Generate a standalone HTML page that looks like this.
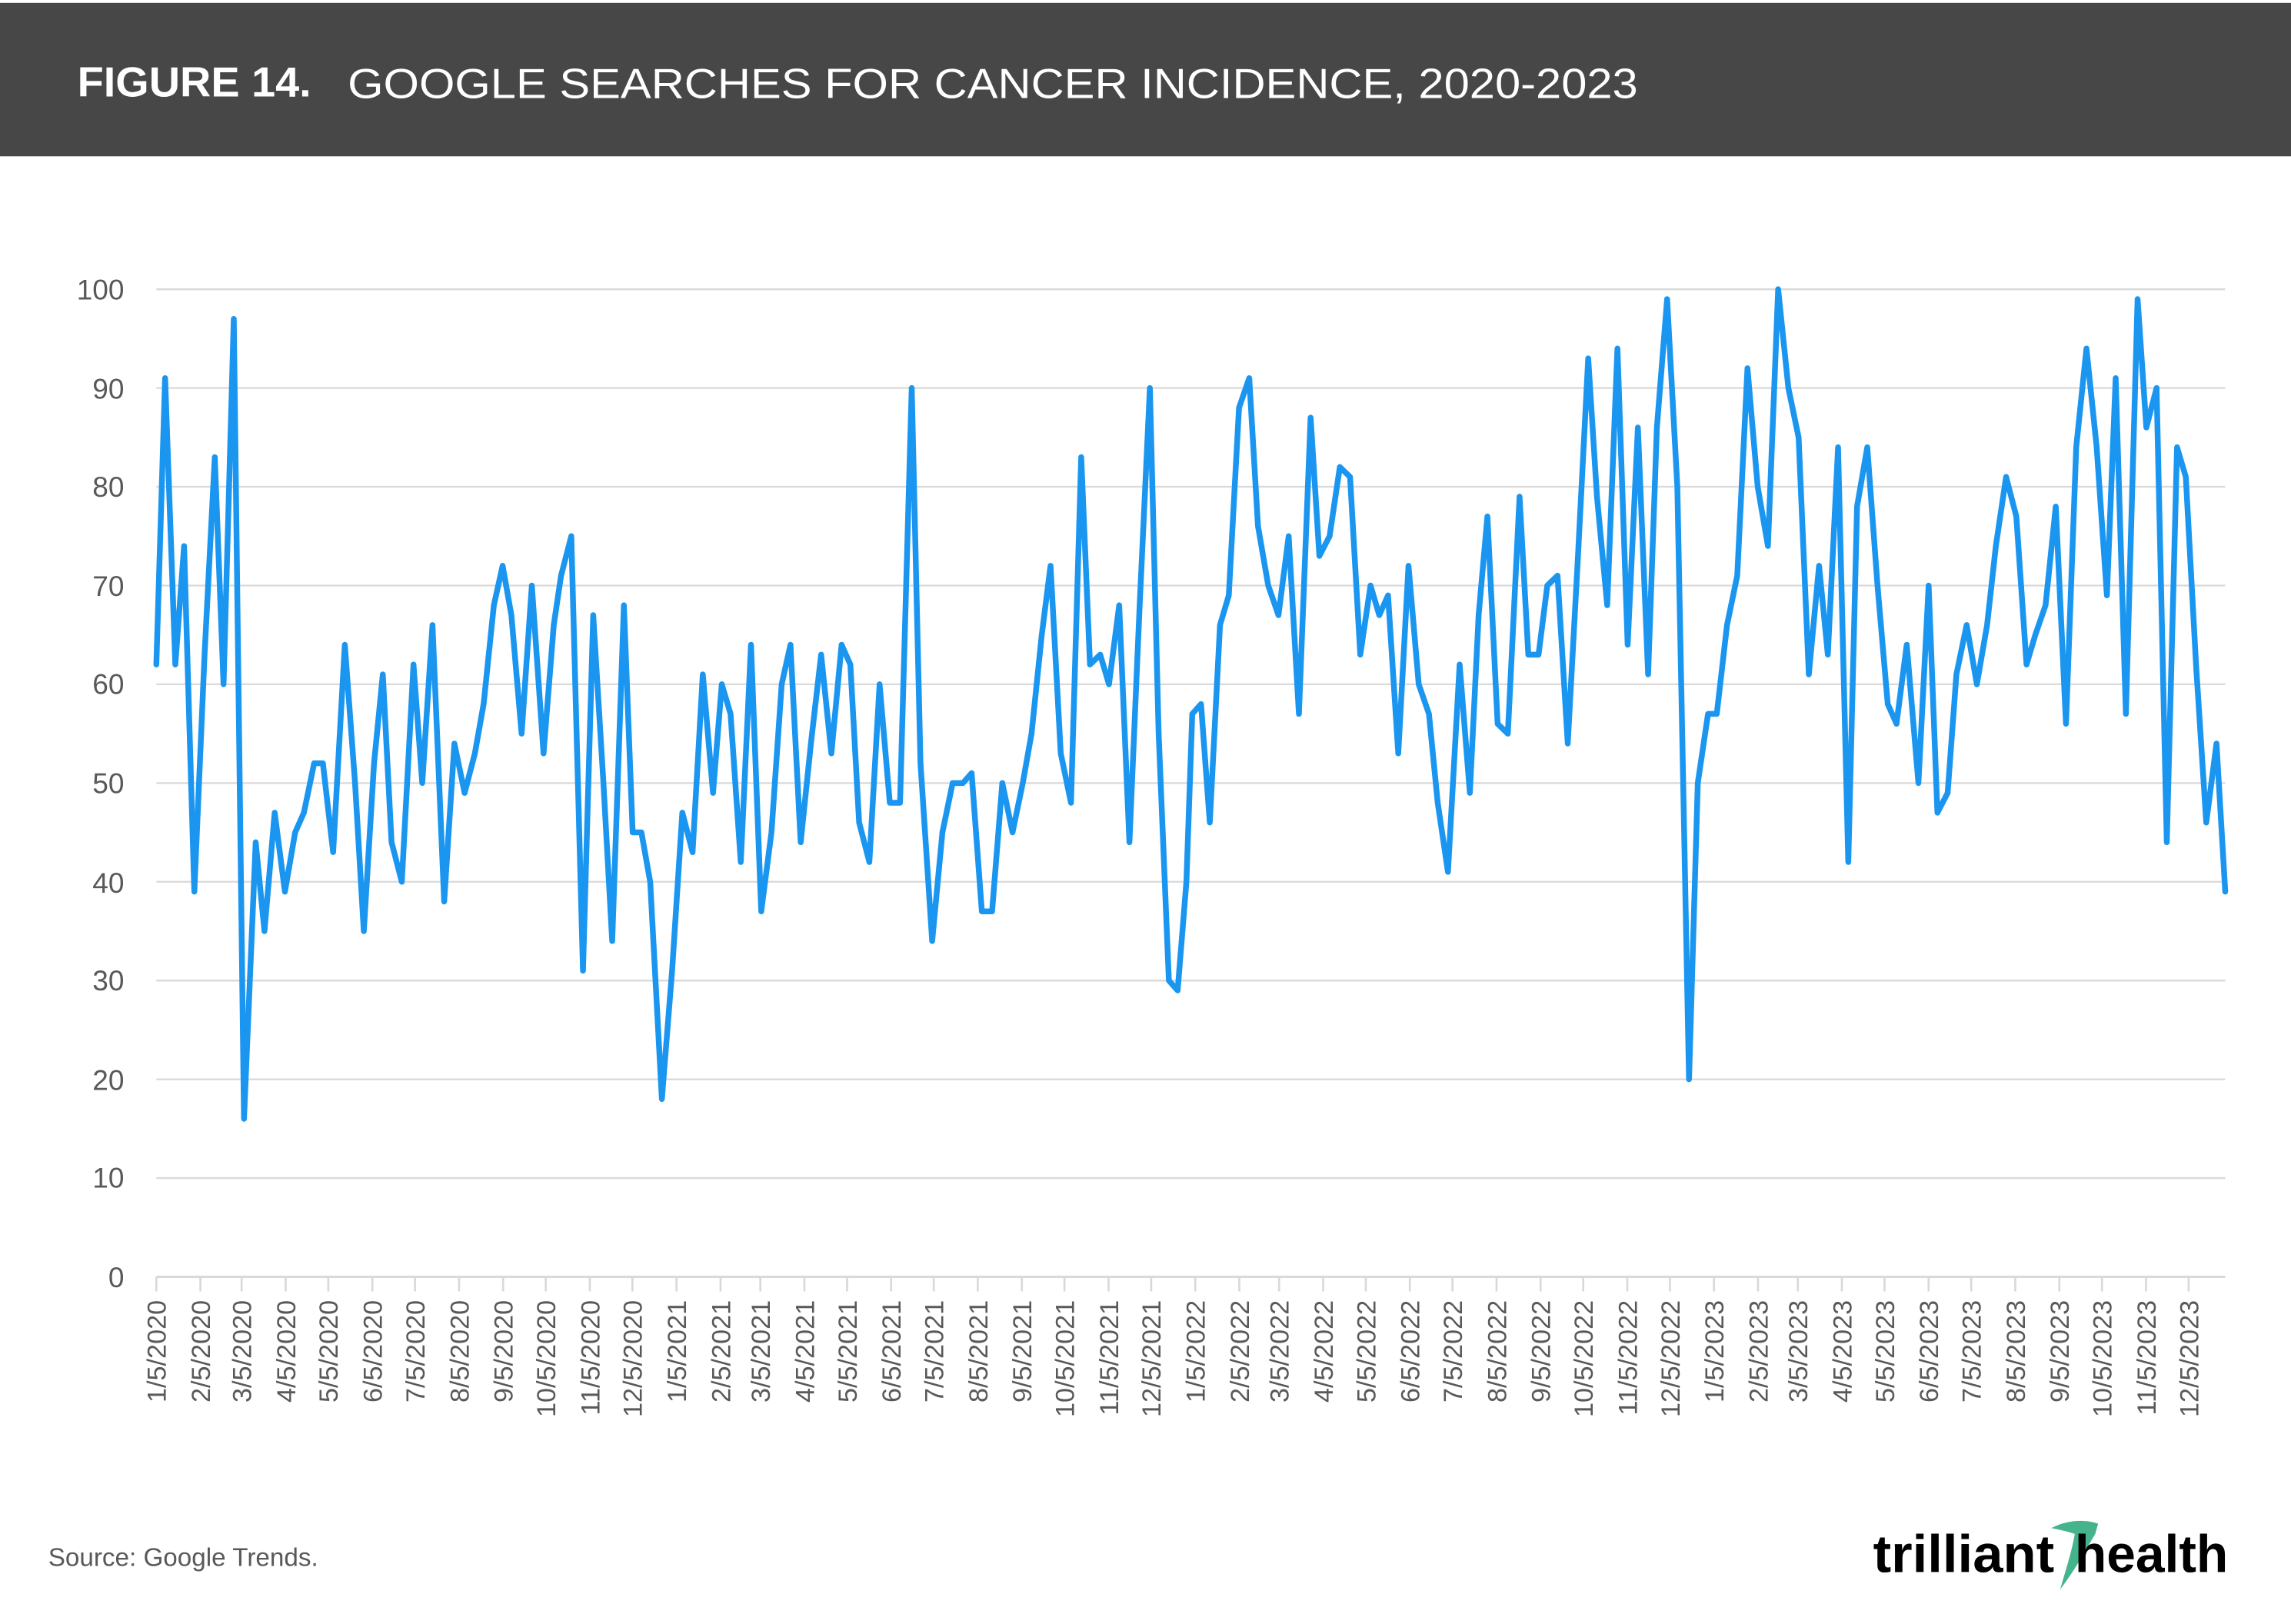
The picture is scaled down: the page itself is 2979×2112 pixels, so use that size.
<!DOCTYPE html>
<html><head><meta charset="utf-8"><style>html,body{margin:0;padding:0;background:#fff}svg{display:block}</style></head>
<body>
<svg id="s" xmlns="http://www.w3.org/2000/svg" width="2979" height="2112" viewBox="0 0 1568 1111.65" font-family="Liberation Sans, sans-serif">
<rect x="0" y="0" width="1568" height="1111.65" fill="#fff"/>
<rect x="0" y="2" width="1568" height="105" fill="#474747"/>
<text x="53" y="66" fill="#fff" font-size="29" font-weight="bold" textLength="160" lengthAdjust="spacingAndGlyphs">FIGURE 14.</text>
<text x="238" y="67" fill="#fff" font-size="29" textLength="883" lengthAdjust="spacingAndGlyphs">GOOGLE SEARCHES FOR CANCER INCIDENCE, 2020-2023</text>
<g stroke="#d9d9d9" stroke-width="1.2">
<line x1="107" x2="1523" y1="198" y2="198"/><line x1="107" x2="1523" y1="265.6" y2="265.6"/>
<line x1="107" x2="1523" y1="333.2" y2="333.2"/><line x1="107" x2="1523" y1="400.8" y2="400.8"/>
<line x1="107" x2="1523" y1="468.4" y2="468.4"/><line x1="107" x2="1523" y1="536" y2="536"/>
<line x1="107" x2="1523" y1="603.6" y2="603.6"/><line x1="107" x2="1523" y1="671.2" y2="671.2"/>
<line x1="107" x2="1523" y1="738.8" y2="738.8"/><line x1="107" x2="1523" y1="806.4" y2="806.4"/>
<line x1="107" x2="1523" y1="874" y2="874" stroke-width="1.6"/>
</g>
<g fill="#595959" font-size="19.5" text-anchor="end">
<text x="85" y="205">100</text><text x="85" y="273">90</text><text x="85" y="340">80</text><text x="85" y="408">70</text>
<text x="85" y="475">60</text><text x="85" y="543">50</text><text x="85" y="611">40</text><text x="85" y="678">30</text>
<text x="85" y="746">20</text><text x="85" y="813">10</text><text x="85" y="881">0</text>
</g>
<g id="ticks" stroke="#d9d9d9" stroke-width="1.4"></g>
<g id="xl" fill="#595959" font-size="18"></g>
<g transform="translate(0,874) scale(1,-6.76)">
<polyline fill="none" stroke="#1a96f0" stroke-width="7.5" stroke-linejoin="round" stroke-linecap="round" vector-effect="non-scaling-stroke" points="107,62 113,91 120,62 126,74 133,39 140,63 147,83 153,60 160,97 167,16 175,44 181,35 188,47 195,39 202,45 208,47 215,52 221,52 228,43 236,64 243,50 249,35 256,52 262,61 268,44 275,40 283,62 289,50 296,66 304,38 311,54 318,49 325,53 331,58 338,68 344,72 350,67 357,55 364,70 372,53 379,66 384,71 391,75 399,31 406,67 413,50 419,34 427,68 433,45 439,45 445,40 453,18 460,31 467,47 474,43 481,61 488,49 494,60 500,57 507,42 514,64 521,37 528,45 535,60 541,64 548,44 555,54 562,63 569,53 576,64 582,62 588,46 595,42 602,60 609,48 616,48 624,90 630,52 638,34 645,45 652,50 659,50 665,51 672,37 679,37 686,50 693,45 700,50 706,55 713,65 719,72 726,53 733,48 740,83 746,62 753,63 759,60 766,68 773,44 780,68 787,90 793,55 800,30 806,29 812,40 816,57 822,58 828,46 835,66 841,69 848,88 855,91 861,76 868,70 875,67 882,75 889,57 897,87 903,73 910,75 917,82 924,81 931,63 938,70 944,67 950,69 957,53 964,72 971,60 978,57 984,48 991,41 999,62 1006,49 1012,67 1018,77 1025,56 1032,55 1040,79 1046,63 1053,63 1059,70 1066,71 1073,54 1080,73 1087,93 1093,79 1100,68 1107,94 1114,64 1121,86 1128,61 1134,86 1141,99 1148,80 1156,20 1162,50 1169,57 1175,57 1182,66 1189,71 1196,92 1203,80 1210,74 1217,100 1224,90 1231,85 1238,61 1245,72 1251,63 1258,84 1265,42 1271,78 1278,84 1285,70 1292,58 1298,56 1305,64 1313,50 1320,70 1326,47 1333,49 1339,61 1346,66 1353,60 1360,66 1366,74 1373,81 1380,77 1387,62 1393,65 1400,68 1407,78 1414,56 1421,84 1428,94 1435,84 1442,69 1448,91 1455,57 1463,99 1469,86 1476,90 1483,44 1490,84 1496,81 1503,62 1510,46 1517,54 1523,39"/>
</g>
<text x="33" y="1072" fill="#595959" font-size="17.5">Source: Google Trends.</text>
<path d="M1404,1046 C1415,1040 1428,1040 1436,1043 L1434,1050 C1428,1060 1422,1072 1410,1088 C1414,1074 1418,1062 1420,1050 C1414,1048 1409,1047 1404,1046 Z" fill="#45b48c"/>
<text x="1282" y="1076" font-size="36" font-weight="bold" fill="#000" textLength="124" lengthAdjust="spacingAndGlyphs">trilliant</text>
<text x="1420" y="1076" font-size="36" font-weight="bold" fill="#000" textLength="105" lengthAdjust="spacingAndGlyphs">health</text>
</svg>
<script>
(function(){
var NS="http://www.w3.org/2000/svg";
var t=document.getElementById("ticks"),l=document.getElementById("xl");
var base=Date.UTC(2020,0,5);
for(var y=2020;y<=2023;y++)for(var m=0;m<12;m++){
var d=(Date.UTC(y,m,5)-base)/86400000;var x=107+d*0.9727;
var ln=document.createElementNS(NS,"line");ln.setAttribute("x1",x);ln.setAttribute("x2",x);ln.setAttribute("y1",874);ln.setAttribute("y2",884);t.appendChild(ln);
var tx=document.createElementNS(NS,"text");tx.setAttribute("text-anchor","end");
tx.setAttribute("transform","translate("+(x+6.5)+",890) rotate(-90)");tx.textContent=(m+1)+"/5/"+y;l.appendChild(tx);}
})();
</script>
</body></html>
